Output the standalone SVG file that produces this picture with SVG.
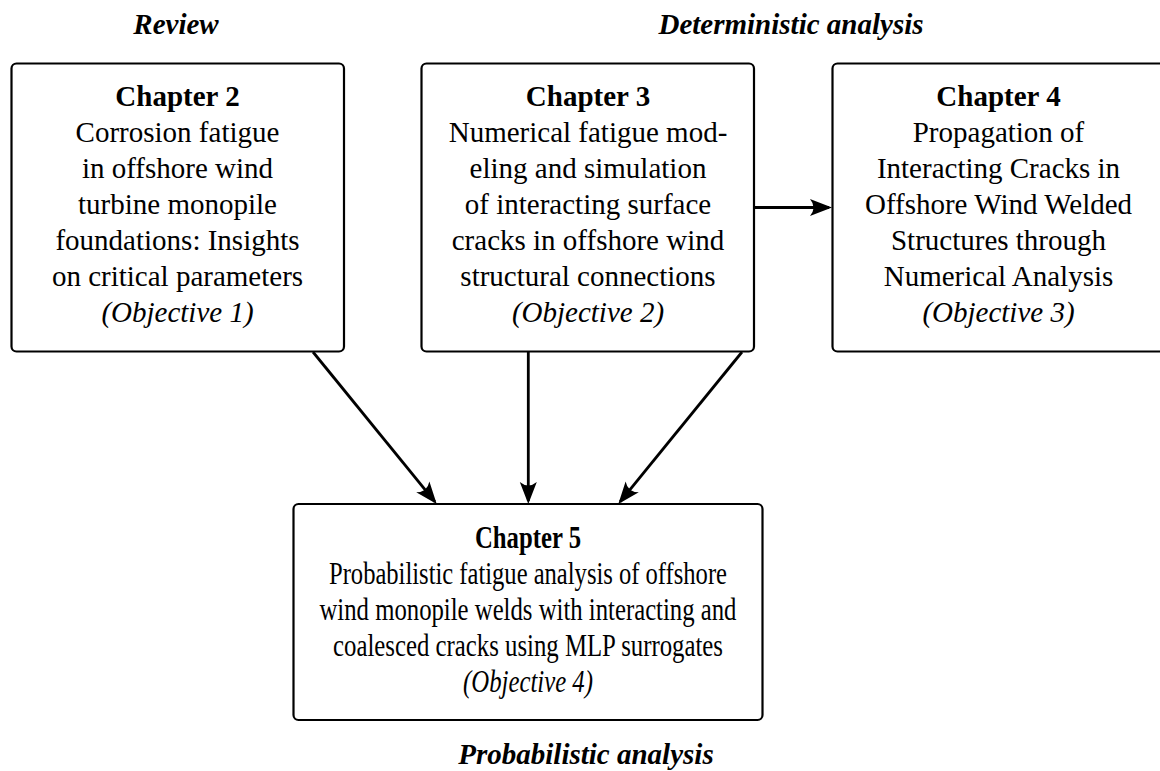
<svg xmlns="http://www.w3.org/2000/svg" width="1160" height="771" viewBox="0 0 1160 771">
<style>
.box{fill:#fff;stroke:#000;stroke-width:2.2}
.t{font-family:"Liberation Serif","Times New Roman",serif;font-size:29px;text-anchor:middle;fill:#000}
.t5{font-size:31px}
.b{font-weight:bold}
.i{font-style:italic}
.lbl{font-family:"Liberation Serif","Times New Roman",serif;font-size:29px;font-weight:bold;font-style:italic;text-anchor:middle;fill:#000}
.c{fill:none;stroke:#000;stroke-width:2.8}
</style>
<defs>
<marker id="arr" markerUnits="userSpaceOnUse" markerWidth="24" markerHeight="20" viewBox="0 0 24 20" refX="20" refY="10" orient="auto">
<path d="M23,10 L1,1.5 Q8,10 1,18.5 Z" fill="#000"/>
</marker>
</defs>
<text class="lbl" x="176" y="34">Review</text>
<text class="lbl" x="791" y="34">Deterministic analysis</text>
<text class="lbl" x="586" y="764">Probabilistic analysis</text>
<g id="connectors">
<line class="c" x1="313" y1="352" x2="434.8" y2="501.6" marker-end="url(#arr)"/>
<line class="c" x1="528.3" y1="352" x2="528.3" y2="501" marker-end="url(#arr)"/>
<line class="c" x1="742" y1="352" x2="620.2" y2="501.6" marker-end="url(#arr)"/>
<line class="c" x1="755" y1="207.5" x2="829" y2="207.5" marker-end="url(#arr)"/>
</g>
<g id="ch2">
<rect class="box" x="11.5" y="63.5" width="332.5" height="288" rx="5"/>
<text class="t b" x="177.5" y="106">Chapter 2</text>
<text class="t" x="177.5" y="142">Corrosion fatigue</text>
<text class="t" x="177.5" y="178">in offshore wind</text>
<text class="t" x="177.5" y="214">turbine monopile</text>
<text class="t" x="177.5" y="250">foundations: Insights</text>
<text class="t" x="177.5" y="286">on critical parameters</text>
<text class="t i" x="177.5" y="322">(Objective 1)</text>
</g>
<g id="ch3">
<rect class="box" x="421.5" y="63.5" width="332.5" height="288" rx="5"/>
<text class="t b" x="588" y="106">Chapter 3</text>
<text class="t" x="588" y="142">Numerical fatigue mod-</text>
<text class="t" x="588" y="178">eling and simulation</text>
<text class="t" x="588" y="214">of interacting surface</text>
<text class="t" x="588" y="250">cracks in offshore wind</text>
<text class="t" x="588" y="286">structural connections</text>
<text class="t i" x="588" y="322">(Objective 2)</text>
</g>
<g id="ch4">
<rect class="box" x="832.5" y="63.5" width="332.5" height="288" rx="5"/>
<text class="t b" x="998.5" y="106">Chapter 4</text>
<text class="t" x="998.5" y="142">Propagation of</text>
<text class="t" x="998.5" y="178">Interacting Cracks in</text>
<text class="t" x="998.5" y="214">Offshore Wind Welded</text>
<text class="t" x="998.5" y="250">Structures through</text>
<text class="t" x="998.5" y="286">Numerical Analysis</text>
<text class="t i" x="998.5" y="322">(Objective 3)</text>
</g>
<g id="ch5">
<rect class="box" x="293.5" y="504" width="469" height="216" rx="5"/>
<text class="t t5 b" x="528" y="548" textLength="106" lengthAdjust="spacingAndGlyphs">Chapter 5</text>
<text class="t t5" x="528" y="584" textLength="398" lengthAdjust="spacingAndGlyphs">Probabilistic fatigue analysis of offshore</text>
<text class="t t5" x="528" y="620" textLength="417" lengthAdjust="spacingAndGlyphs">wind monopile welds with interacting and</text>
<text class="t t5" x="528" y="656" textLength="390" lengthAdjust="spacingAndGlyphs">coalesced cracks using MLP surrogates</text>
<text class="t t5 i" x="528" y="692" textLength="130" lengthAdjust="spacingAndGlyphs">(Objective 4)</text>
</g>
</svg>
